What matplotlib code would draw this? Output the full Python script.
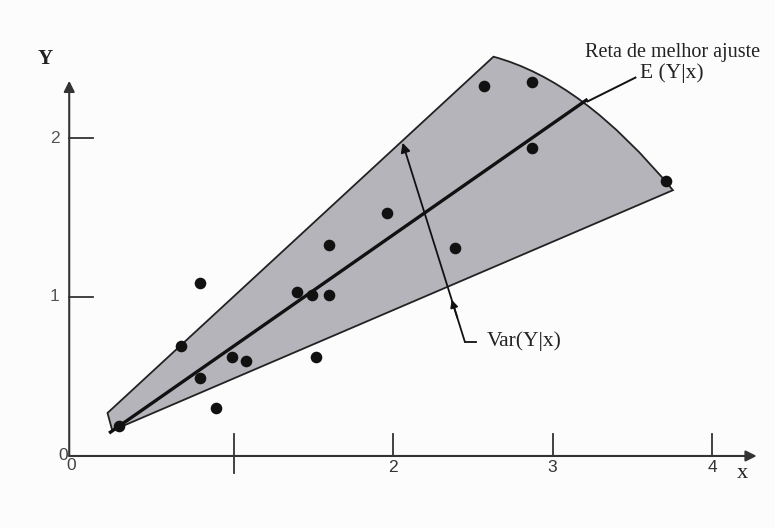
import numpy as np
import matplotlib.pyplot as plt
from matplotlib.patches import PathPatch
from matplotlib.path import Path

x_obs = [0.28, 0.67, 0.79, 0.79, 0.89, 0.99, 1.08, 1.40, 1.49, 1.60,
         1.52, 1.60, 1.96, 2.39, 2.57, 2.87, 2.87, 3.71]
y_obs = [0.19, 0.69, 1.09, 0.49, 0.30, 0.62, 0.60, 1.03, 1.01, 1.01,
         0.62, 1.33, 1.53, 1.31, 2.33, 2.35, 1.94, 1.73]

# best fit line E(Y|x) = a + b*x
FIT_A, FIT_B = -0.01, 0.70
FIT_X = [0.22, 3.22]

# shaded band: upper / lower edges (intercept, slope) and their x ranges
UPPER = (0.076, 0.926)
UPPER_X = [0.21, 2.63]
LOWER = (0.057, 0.43)
LOWER_X = [0.24, 3.755]
ARC_CTRL = (3.19, 2.36)   # control point of the curved right end

x_ticks = [1, 2, 3, 4]
x_tick_labels = ["", "2", "3", "4"]
y_ticks = [1, 2]
y_tick_labels = ["1", "2"]

AXIS_X = -0.03
INK = "#222222"
SERIF = ["Liberation Serif", "DejaVu Serif"]
SANS = ["Liberation Sans", "DejaVu Sans"]


def line_y(coef, x):
    return coef[0] + coef[1] * x


fig = plt.figure(figsize=(7.75, 5.28), dpi=100)
fig.patch.set_facecolor("#fcfcfc")
ax = fig.add_axes([0, 0, 1, 1])
ax.set_xlim(-0.464, 4.395)
ax.set_ylim(-0.453, 2.868)
ax.axis("off")

# band
p_ul = (UPPER_X[0], line_y(UPPER, UPPER_X[0]))
p_ur = (UPPER_X[1], line_y(UPPER, UPPER_X[1]))
p_lr = (LOWER_X[1], line_y(LOWER, LOWER_X[1]))
p_ll = (LOWER_X[0], line_y(LOWER, LOWER_X[0]))
verts = [p_ul, p_ur, ARC_CTRL, p_lr, p_ll, p_ul]
codes = [Path.MOVETO, Path.LINETO, Path.CURVE3, Path.CURVE3, Path.LINETO, Path.CLOSEPOLY]
band = PathPatch(Path(verts, codes), facecolor="#b6b4bb", edgecolor=INK, lw=1.3, zorder=1)
ax.add_patch(band)

# fit line
fx = np.array(FIT_X)
ax.plot(fx, FIT_A + FIT_B * fx, color="#111111", lw=2.4, zorder=3, solid_capstyle="butt")

# points
ax.scatter(x_obs, y_obs, s=70, color="#111111", zorder=4, linewidths=0)

# axes with arrows
arrow = dict(arrowstyle="-|>", color="#333333", lw=1.5, mutation_scale=16, shrinkA=0, shrinkB=0)
ax.annotate("", xy=(4.28, 0), xytext=(AXIS_X, 0), arrowprops=arrow)
ax.annotate("", xy=(AXIS_X, 2.36), xytext=(AXIS_X, 0), arrowprops=arrow)

for t, lab in zip(x_ticks, x_tick_labels):
    low = -0.11 if t == 1 else 0
    ax.plot([t, t], [low, 0.14], color="#333333", lw=1.3)
    if lab:
        ax.text(t, -0.075, lab, ha="center", va="center", fontsize=12.5, family=SANS, color="#333333")
for t, lab in zip(y_ticks, y_tick_labels):
    ax.plot([AXIS_X, AXIS_X + 0.15], [t, t], color="#333333", lw=1.3)
    ax.text(-0.12, t, lab, ha="center", va="center", fontsize=12.5, family=SANS, color="#555555")

ax.text(-0.07, 0.0, "0", ha="center", va="center", fontsize=12.5, family=SANS, color="#444444")
ax.text(-0.02, -0.06, "0", ha="center", va="center", fontsize=12.5, family=SANS, color="#444444")
ax.text(-0.18, 2.50, "Y", ha="center", va="center", fontsize=15, family=SERIF, fontweight="bold", color=INK)
ax.text(4.19, -0.11, "x", ha="center", va="center", fontsize=16, family=SERIF, color=INK)

# E(Y|x) label
ax.plot([3.22, 3.52], [2.23, 2.38], color="#111111", lw=1.4)
ax.text(3.755, 2.535, "Reta de melhor ajuste", ha="center", va="center", fontsize=14.5, family=SERIF, color=INK)
ax.text(3.75, 2.405, "E (Y|x)", ha="center", va="center", fontsize=15.5, family=SERIF, color=INK)

# Var(Y|x) label
v_start = np.array([2.45, 0.72])
v_end = np.array([2.06, 1.97])
ax.plot([2.45, 2.52], [0.72, 0.72], color="#111111", lw=1.3)
ax.annotate("", xy=v_end, xytext=v_start,
            arrowprops=dict(arrowstyle="-|>", color="#111111", lw=1.3, mutation_scale=14,
                            shrinkA=0, shrinkB=0), zorder=5)
d = v_end - v_start
ax.annotate("", xy=v_start + 0.21 * d, xytext=v_start + 0.12 * d,
            arrowprops=dict(arrowstyle="-|>", color="#111111", lw=1.3, mutation_scale=11,
                            shrinkA=0, shrinkB=0), zorder=5)
ax.text(2.59, 0.72, "Var(Y|x)", ha="left", va="center", fontsize=15.5, family=SERIF, color=INK)

fig.savefig("out.png", dpi=100, facecolor=fig.get_facecolor())
